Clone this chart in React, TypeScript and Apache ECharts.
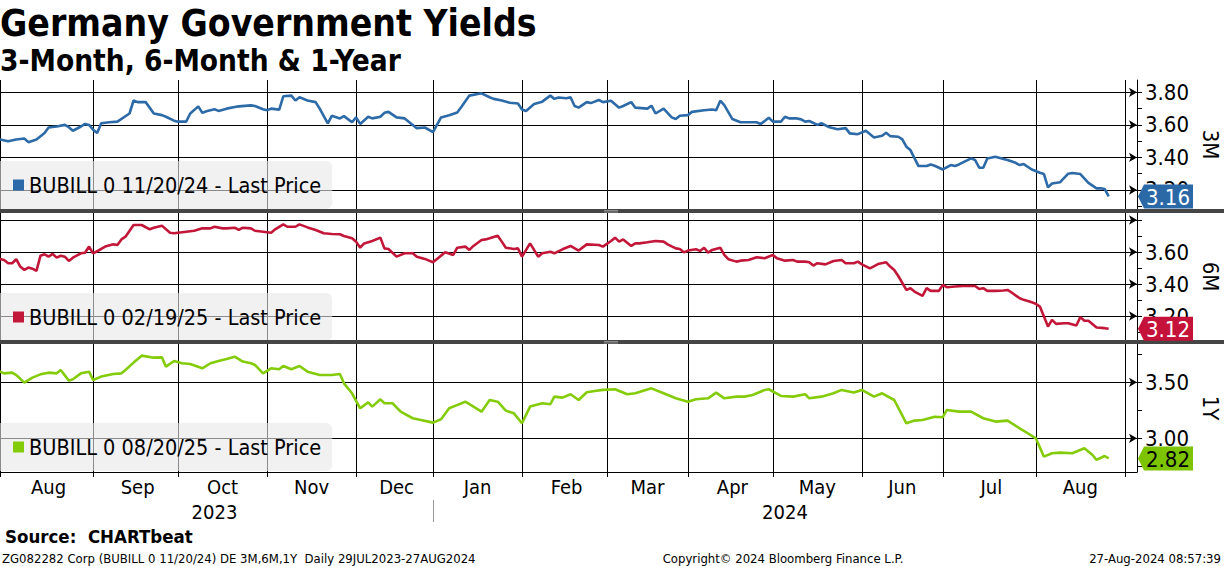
import React, { useEffect, useRef } from "react";
import * as echarts from "echarts";

const FONT = '"DejaVu Sans Condensed", "DejaVu Sans", sans-serif';

const TITLE = "Germany Government Yields";
const SUBTITLE = "3-Month, 6-Month & 1-Year";
const SERIES_NAMES = [
  "BUBILL 0 11/20/24 - Last Price",
  "BUBILL 0 02/19/25 - Last Price",
  "BUBILL 0 08/20/25 - Last Price",
];
const PANEL_NAMES = ["3M", "6M", "1Y"];
const LINE_COLORS = ["#2c6aa8", "#c3173a", "#84cc0a"];
const TAG_COLORS = ["#2a68a6", "#c4123a", "#7cc400"];
const TAG_TEXT = ["#ffffff", "#ffffff", "#000000"];
const MONTHS = ["Jan", "Feb", "Mar", "Apr", "May", "Jun", "Jul", "Aug", "Sep", "Oct", "Nov", "Dec"];

const FIRST_DAY = "2023-07-31";
const LAST_DAY = "2024-09-05";
const HOLIDAYS = ["2023-12-25", "2023-12-26", "2024-01-01", "2024-03-29", "2024-04-01", "2024-05-01"];

// [trading-day index from 31 Jul 2023, yield %]
const yield3M: [number, number][] = [
  [0, 3.51], [1, 3.51], [3, 3.5], [5, 3.51], [7, 3.516], [8, 3.494], [10, 3.51], [12, 3.55], [13, 3.584], [15, 3.59],
  [17, 3.6], [18, 3.586], [19, 3.564], [21, 3.59], [22, 3.606], [23, 3.6], [24, 3.57], [25, 3.55], [26, 3.61], [28, 3.616],
  [30, 3.62], [33, 3.67], [34, 3.75], [35, 3.74], [37, 3.74], [39, 3.67], [41, 3.66], [42, 3.65], [44, 3.626], [45, 3.62],
  [47, 3.62], [48, 3.67], [50, 3.714], [51, 3.674], [52, 3.684], [54, 3.696], [55, 3.686], [57, 3.7], [59, 3.71], [60, 3.714],
  [63, 3.72], [64, 3.716], [66, 3.696], [67, 3.69], [68, 3.7], [70, 3.694], [71, 3.776], [73, 3.78], [74, 3.75], [75, 3.77],
  [77, 3.75], [79, 3.74], [80, 3.7], [82, 3.61], [83, 3.656], [85, 3.64], [86, 3.654], [88, 3.616], [89, 3.646], [90, 3.606],
  [92, 3.65], [93, 3.64], [95, 3.65], [96, 3.674], [97, 3.68], [99, 3.646], [101, 3.64], [104, 3.58], [106, 3.584], [108, 3.556],
  [110, 3.646], [112, 3.66], [114, 3.676], [115, 3.71], [117, 3.78], [120, 3.794], [122, 3.77], [123, 3.76], [125, 3.75], [127, 3.736],
  [129, 3.732], [130, 3.695], [131, 3.685], [133, 3.728], [135, 3.743], [137, 3.78], [138, 3.76], [139, 3.768], [141, 3.764], [142, 3.77],
  [143, 3.716], [144, 3.706], [146, 3.74], [147, 3.734], [149, 3.753], [150, 3.74], [152, 3.748], [154, 3.706], [155, 3.716], [157, 3.74],
  [158, 3.706], [161, 3.7], [162, 3.718], [163, 3.67], [165, 3.7], [167, 3.646], [168, 3.636], [169, 3.656], [171, 3.66], [172, 3.68],
  [175, 3.69], [177, 3.695], [178, 3.69], [179, 3.749], [180, 3.722], [182, 3.636], [184, 3.616], [188, 3.616], [189, 3.605], [191, 3.644],
  [192, 3.62], [194, 3.62], [195, 3.65], [196, 3.64], [198, 3.64], [199, 3.634], [200, 3.62], [201, 3.624], [203, 3.6], [204, 3.61],
  [206, 3.585], [208, 3.573], [210, 3.58], [211, 3.548], [213, 3.543], [215, 3.564], [217, 3.523], [219, 3.533], [220, 3.552], [221, 3.531],
  [223, 3.527], [224, 3.511], [225, 3.466], [226, 3.445], [228, 3.347], [230, 3.347], [231, 3.357], [232, 3.349], [234, 3.326], [236, 3.353],
  [237, 3.347], [238, 3.357], [241, 3.394], [242, 3.384], [243, 3.337], [244, 3.337], [245, 3.394], [247, 3.404], [249, 3.39], [250, 3.384],
  [252, 3.367], [253, 3.353], [254, 3.359], [256, 3.326], [258, 3.306], [259, 3.298], [260, 3.216], [261, 3.24], [263, 3.248], [265, 3.3],
  [266, 3.304], [268, 3.298], [270, 3.244], [272, 3.21], [273, 3.21], [274, 3.206], [275, 3.16],
];

const yield6M: [number, number][] = [
  [0, 3.557], [1, 3.557], [2, 3.55], [3, 3.53], [4, 3.53], [5, 3.555], [6, 3.509], [7, 3.488], [8, 3.503], [9, 3.496],
  [10, 3.482], [11, 3.577], [12, 3.586], [13, 3.571], [14, 3.588], [15, 3.565], [16, 3.577], [17, 3.571], [18, 3.544], [19, 3.565],
  [21, 3.592], [22, 3.596], [23, 3.634], [24, 3.592], [26, 3.619], [27, 3.634], [29, 3.648], [30, 3.644], [31, 3.679], [32, 3.696],
  [34, 3.769], [36, 3.769], [38, 3.742], [39, 3.752], [41, 3.765], [43, 3.721], [44, 3.717], [45, 3.721], [47, 3.727], [49, 3.733],
  [51, 3.748], [53, 3.748], [54, 3.758], [56, 3.748], [57, 3.748], [59, 3.752], [60, 3.738], [61, 3.752], [63, 3.748], [64, 3.733],
  [66, 3.727], [68, 3.721], [69, 3.742], [71, 3.773], [72, 3.758], [74, 3.758], [75, 3.773], [77, 3.754], [79, 3.738], [81, 3.717],
  [83, 3.713], [85, 3.711], [86, 3.7], [88, 3.686], [89, 3.665], [90, 3.627], [91, 3.654], [93, 3.669], [95, 3.69], [96, 3.623],
  [97, 3.619], [99, 3.571], [101, 3.592], [103, 3.592], [104, 3.571], [106, 3.557], [108, 3.536], [109, 3.557], [111, 3.598], [113, 3.582],
  [114, 3.627], [116, 3.634], [117, 3.613], [118, 3.638], [120, 3.675], [121, 3.679], [122, 3.686], [124, 3.702], [125, 3.665], [126, 3.627],
  [128, 3.619], [129, 3.623], [130, 3.571], [132, 3.654], [134, 3.571], [135, 3.592], [137, 3.602], [138, 3.592], [140, 3.617], [142, 3.638],
  [144, 3.609], [146, 3.648], [149, 3.644], [150, 3.634], [152, 3.669], [153, 3.69], [154, 3.665], [155, 3.679], [157, 3.638], [158, 3.654],
  [159, 3.654], [161, 3.661], [163, 3.669], [165, 3.665], [166, 3.648], [168, 3.623], [169, 3.619], [170, 3.598], [171, 3.609], [173, 3.617],
  [174, 3.607], [175, 3.627], [176, 3.596], [177, 3.613], [179, 3.627], [180, 3.582], [181, 3.555], [183, 3.54], [184, 3.546], [186, 3.55],
  [188, 3.567], [190, 3.561], [192, 3.582], [193, 3.561], [195, 3.546], [197, 3.55], [198, 3.54], [200, 3.54], [201, 3.536], [202, 3.515],
  [203, 3.53], [205, 3.523], [207, 3.544], [209, 3.55], [210, 3.53], [212, 3.53], [213, 3.54], [214, 3.523], [216, 3.498], [218, 3.525],
  [220, 3.536], [221, 3.509], [222, 3.488], [223, 3.45], [225, 3.363], [226, 3.374], [227, 3.353], [229, 3.326], [230, 3.374], [231, 3.357],
  [233, 3.357], [234, 3.394], [235, 3.38], [237, 3.384], [239, 3.388], [241, 3.388], [242, 3.388], [243, 3.369], [244, 3.374], [245, 3.357],
  [247, 3.357], [249, 3.359], [250, 3.363], [251, 3.347], [253, 3.311], [254, 3.301], [256, 3.286], [257, 3.276], [258, 3.259], [259, 3.197],
  [260, 3.134], [261, 3.176], [262, 3.151], [264, 3.155], [265, 3.155], [267, 3.141], [268, 3.193], [269, 3.17], [270, 3.17], [272, 3.128],
  [274, 3.124], [275, 3.12],
];

const yield1Y: [number, number][] = [
  [0, 3.595], [1, 3.595], [2, 3.58], [4, 3.586], [5, 3.565], [7, 3.497], [9, 3.542], [11, 3.571], [13, 3.586], [15, 3.58],
  [16, 3.61], [18, 3.515], [19, 3.527], [21, 3.58], [23, 3.595], [24, 3.521], [26, 3.551], [29, 3.574], [31, 3.58], [32, 3.61],
  [34, 3.676], [36, 3.738], [39, 3.72], [41, 3.723], [42, 3.64], [44, 3.69], [46, 3.67], [48, 3.664], [51, 3.625], [53, 3.67],
  [55, 3.69], [57, 3.708], [59, 3.729], [61, 3.685], [63, 3.67], [64, 3.655], [66, 3.58], [68, 3.625], [70, 3.616], [71, 3.646],
  [73, 3.616], [75, 3.646], [77, 3.595], [80, 3.565], [83, 3.565], [85, 3.574], [86, 3.491], [88, 3.402], [90, 3.268], [92, 3.321],
  [93, 3.283], [95, 3.348], [96, 3.313], [98, 3.313], [100, 3.238], [103, 3.179], [105, 3.164], [108, 3.14], [110, 3.17], [112, 3.268],
  [113, 3.283], [116, 3.327], [118, 3.283], [120, 3.238], [122, 3.342], [124, 3.327], [126, 3.247], [128, 3.223], [130, 3.134], [132, 3.283],
  [135, 3.313], [137, 3.304], [138, 3.372], [140, 3.363], [142, 3.393], [144, 3.342], [146, 3.411], [148, 3.423], [150, 3.432], [153, 3.438],
  [156, 3.393], [158, 3.402], [162, 3.446], [165, 3.402], [168, 3.357], [171, 3.327], [173, 3.348], [176, 3.357], [178, 3.408], [180, 3.357],
  [183, 3.372], [185, 3.372], [187, 3.387], [190, 3.432], [191, 3.438], [194, 3.378], [197, 3.372], [200, 3.393], [201, 3.357], [204, 3.372],
  [207, 3.402], [209, 3.432], [212, 3.408], [214, 3.432], [217, 3.372], [219, 3.402], [222, 3.342], [225, 3.134], [227, 3.158], [229, 3.164],
  [232, 3.193], [234, 3.188], [235, 3.253], [238, 3.238], [241, 3.238], [244, 3.179], [247, 3.149], [250, 3.158], [253, 3.089], [255, 3.045],
  [257, 3.0], [259, 2.836], [261, 2.866], [263, 2.872], [266, 2.866], [269, 2.911], [271, 2.851], [272, 2.807], [274, 2.842], [275, 2.82],
];

const SERIES_DATA = [yield3M, yield6M, yield1Y];
const LAST_VALUES = [3.16, 3.12, 2.82];

const Y_RANGES = [
  { min: 3.083, max: 3.876 },
  { min: 3.05, max: 3.844 },
  { min: 2.699, max: 3.842 },
];
const Y_TICKS = [
  [3.1, 3.2, 3.3, 3.4, 3.5, 3.6, 3.7, 3.8],
  [3.1, 3.2, 3.3, 3.4, 3.5, 3.6, 3.7, 3.8],
  [2.75, 3.0, 3.25, 3.5, 3.75],
];
const Y_LABELS = [
  [3.2, 3.4, 3.6, 3.8],
  [3.2, 3.4, 3.6],
  [3.0, 3.5],
];
const Y_GRIDLINES = [
  [3.2, 3.4, 3.6, 3.8],
  [3.2, 3.4, 3.6, 3.8],
  [3.0, 3.5],
];

const FOOTER_SOURCE = "Source:  CHARTbeat";
const FOOTER_LEFT = "ZG082282 Corp (BUBILL 0 11/20/24) DE 3M,6M,1Y  Daily 29JUL2023-27AUG2024";
const FOOTER_MID = "Copyright\u00a9 2024 Bloomberg Finance L.P.";
const FOOTER_RIGHT = "27-Aug-2024 08:57:39";

function tradingDays(): string[] {
  const out: string[] = [];
  const hol = new Set(HOLIDAYS);
  const d = new Date(FIRST_DAY + "T00:00:00Z");
  const end = new Date(LAST_DAY + "T00:00:00Z");
  while (d.getTime() <= end.getTime()) {
    const wd = d.getUTCDay();
    const s = d.toISOString().slice(0, 10);
    if (wd !== 0 && wd !== 6 && !hol.has(s)) out.push(s);
    d.setUTCDate(d.getUTCDate() + 1);
  }
  return out;
}

export default function App() {
  const ref = useRef<HTMLDivElement>(null);

  useEffect(() => {
    if (!ref.current) return;
    const chart = echarts.init(ref.current, undefined, { renderer: "svg" });
    const days = tradingDays();

    const groups: { key: string; start: number; end: number }[] = [];
    days.forEach((d, i) => {
      const k = d.slice(0, 7);
      if (!groups.length || groups[groups.length - 1].key !== k) groups.push({ key: k, start: i, end: i });
      else groups[groups.length - 1].end = i;
    });
    const monthStart = new Set<number>();
    const monthMid = new Set<number>();
    groups.forEach((g, gi) => {
      if (g.start > 0) monthStart.add(g.start);
      if (g.end - g.start >= 10) {
        const next = gi + 1 < groups.length ? groups[gi + 1].start : g.end + 1;
        monthMid.add(Math.round((g.start + next) / 2));
      }
    });
    const yearGroups: { y: string; start: number; end: number }[] = [];
    days.forEach((d, i) => {
      const y = d.slice(0, 4);
      if (!yearGroups.length || yearGroups[yearGroups.length - 1].y !== y) yearGroups.push({ y, start: i, end: i });
      else yearGroups[yearGroups.length - 1].end = i;
    });
    const yearStart = new Set<number>(yearGroups.filter((g) => g.start > 0).map((g) => g.start));
    const yearMid = new Set<number>(yearGroups.map((g) => Math.round((g.start + g.end) / 2)));

    const gridBase = { left: -4, right: 87, containLabel: false, outerBoundsMode: "none" };
    const grids = [
      { ...gridBase, top: 80, height: 129 },
      { ...gridBase, top: 213, height: 127 },
      { ...gridBase, top: 344, height: 128 },
    ];

    const xAxes: any[] = [0, 1, 2].map((i) => ({
      type: "category",
      gridIndex: i,
      data: days,
      boundaryGap: false,
      axisLine: { show: i === 2, onZero: false, lineStyle: { color: "#000", width: 1 } },
      axisTick: {
        show: i === 2,
        interval: (idx: number) => monthStart.has(idx),
        length: 5,
        lineStyle: { color: "#000", width: 1 },
      },
      axisLabel: {
        show: i === 2,
        interval: (idx: number) => monthMid.has(idx),
        formatter: (v: string) => MONTHS[parseInt(v.slice(5, 7), 10) - 1],
        fontSize: 20,
        fontFamily: FONT,
        color: "#000",
        margin: 5,
      },
      splitLine: {
        show: true,
        interval: (idx: number) => monthStart.has(idx),
        lineStyle: { color: "#000", width: 1 },
      },
    }));
    xAxes.push({
      type: "category",
      gridIndex: 2,
      data: days,
      boundaryGap: false,
      position: "bottom",
      offset: 28,
      axisLine: { show: false },
      axisTick: {
        show: true,
        interval: (idx: number) => yearStart.has(idx),
        length: 22,
        lineStyle: { color: "#9a9a9a", width: 1 },
      },
      axisLabel: {
        show: true,
        interval: (idx: number) => yearMid.has(idx),
        formatter: (v: string) => v.slice(0, 4),
        fontSize: 20,
        fontFamily: FONT,
        color: "#000",
        margin: 2,
      },
      splitLine: { show: false },
    });

    const yAxes = [0, 1, 2].map((i) => ({
      type: "value",
      gridIndex: i,
      position: "right",
      min: Y_RANGES[i].min,
      max: Y_RANGES[i].max,
      axisLine: { show: true, lineStyle: { color: "#000", width: 1 } },
      axisTick: { show: true, length: 5, customValues: Y_TICKS[i], lineStyle: { color: "#000", width: 1 } },
      axisLabel: {
        customValues: Y_LABELS[i],
        formatter: (v: number) => v.toFixed(2),
        fontSize: 22,
        fontFamily: FONT,
        color: "#000",
        margin: 8,
      },
      splitLine: { show: false },
      name: PANEL_NAMES[i],
      nameLocation: "middle",
      nameRotate: -90,
      nameGap: 60,
      nameTextStyle: { fontSize: 22, fontFamily: FONT, color: "#000" },
    }));

    const series = [0, 1, 2].map((i) => ({
      type: "line",
      name: SERIES_NAMES[i],
      xAxisIndex: i,
      yAxisIndex: i,
      data: SERIES_DATA[i].map(([d, v]) => [days[d], v]),
      showSymbol: false,
      symbol: "none",
      lineStyle: { color: LINE_COLORS[i], width: 2.6 },
      itemStyle: { color: LINE_COLORS[i] },
      z: 3,
      markLine: {
        silent: true,
        z: 1,
        symbol: ["none", "arrow"],
        symbolSize: [7, 8],
        label: { show: false },
        lineStyle: { color: "#000", width: 1, type: "solid" },
        emphasis: { disabled: true },
        data: Y_GRIDLINES[i].map((v) => ({ yAxis: v })),
      },
    }));

    const legendTops = [161, 293, 423];
    const legends = [0, 1, 2].map((i) => ({
      data: [SERIES_NAMES[i]],
      left: 0,
      top: legendTops[i],
      icon: "rect",
      itemWidth: 11,
      itemHeight: 11,
      padding: [11, 11, 11, 13],
      backgroundColor: "rgba(232,232,232,0.6)",
      borderRadius: [0, 6, 6, 0],
      selectedMode: false,
      z: 10,
      textStyle: { fontSize: 21.5, lineHeight: 26, fontFamily: FONT, color: "#000" },
    }));

    chart.setOption({
      animation: false,
      backgroundColor: "#ffffff",
      title: [
        { text: TITLE, left: 0, top: 5, padding: 0, textStyle: { fontSize: 37, fontWeight: "bold", fontFamily: FONT, color: "#000" } },
        { text: SUBTITLE, left: 0, top: 46, padding: 0, textStyle: { fontSize: 29.5, fontWeight: "bold", fontFamily: FONT, color: "#000" } },
      ],
      grid: grids,
      xAxis: xAxes,
      yAxis: yAxes,
      legend: legends,
      series,
    });

    const tagEls: any[] = [];
    [0, 1, 2].forEach((i) => {
      const x = chart.convertToPixel({ xAxisIndex: i } as any, days[days.length - 1]) as number;
      const y = chart.convertToPixel({ yAxisIndex: i } as any, LAST_VALUES[i]) as number;
      tagEls.push({
        type: "polygon",
        z: 100,
        shape: { points: [[x + 1, y], [x + 7, y - 12], [x + 56, y - 12], [x + 56, y + 12], [x + 7, y + 12]] },
        style: { fill: TAG_COLORS[i] },
      });
      tagEls.push({
        type: "text",
        z: 101,
        x: x + 31,
        y: y + 1,
        style: {
          text: LAST_VALUES[i].toFixed(2),
          fill: TAG_TEXT[i],
          font: `22px ${FONT}`,
          align: "center",
          verticalAlign: "middle",
        },
      });
    });

    const sepEls: any[] = [];
    [209, 340].forEach((y) => {
      sepEls.push({ type: "rect", z: 50, shape: { x: 0, y, width: 1224, height: 4 }, style: { fill: "#454545" } });
      sepEls.push({ type: "rect", z: 51, shape: { x: 604, y: y + 1, width: 14, height: 0.8 }, style: { fill: "#a0a0a0" } });
      sepEls.push({ type: "rect", z: 51, shape: { x: 604, y: y + 2.6, width: 14, height: 0.8 }, style: { fill: "#a0a0a0" } });
    });

    const footerEls = [
      { type: "text", x: 5, y: 536, style: { text: FOOTER_SOURCE, font: `bold 18.5px ${FONT}`, fill: "#000", verticalAlign: "middle" } },
      { type: "text", x: 2, y: 558, style: { text: FOOTER_LEFT, font: `13px ${FONT}`, fill: "#000", verticalAlign: "middle" } },
      { type: "text", x: 783, y: 558, style: { text: FOOTER_MID, font: `13px ${FONT}`, fill: "#000", align: "center", verticalAlign: "middle" } },
      { type: "text", x: 1221, y: 558, style: { text: FOOTER_RIGHT, font: `13px ${FONT}`, fill: "#000", align: "right", verticalAlign: "middle" } },
    ];

    chart.setOption({ graphic: [...sepEls, ...tagEls, ...footerEls] });

    return () => chart.dispose();
  }, []);

  return (
    <div
      ref={ref}
      style={{ position: "fixed", left: 0, top: 0, width: 1224, height: 566, background: "#fff" }}
    />
  );
}
